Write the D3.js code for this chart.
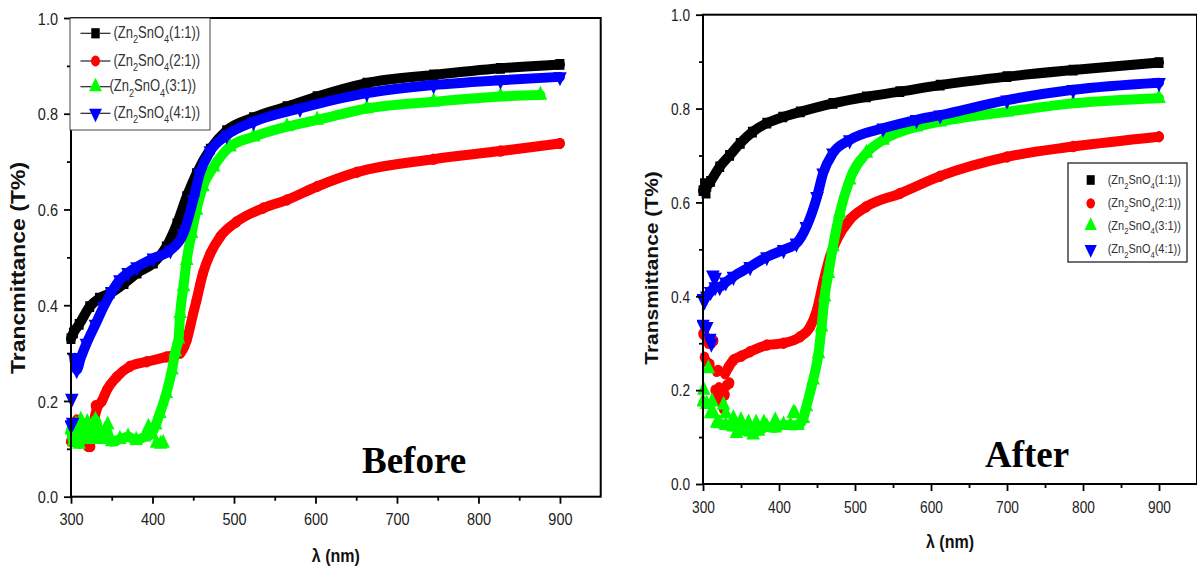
<!DOCTYPE html>
<html><head><meta charset="utf-8">
<script src="https://cdn.jsdelivr.net/npm/d3@7"></script>
<style>body{margin:0;background:#fff}svg{display:block}</style>
</head><body>
<svg id="chart" width="1197" height="568"></svg>
<script>
// ---------- DATA ----------
const xMajorTicks = [300, 400, 500, 600, 700, 800, 900];
const xMinorTicks = [350, 450, 550, 650, 750, 850];
const yMajorTicks = [0, 0.2, 0.4, 0.6, 0.8, 1.0];
const yMinorTicks = [0.1, 0.3, 0.5, 0.7, 0.9];
const ratios = ["1:1", "2:1", "3:1", "4:1"];
const seriesColors = ["#000000", "#ff0000", "#00ff00", "#0000ff"];
const seriesSymbols = ["square", "circle", "triangle", "triangleDown"];
const panelTitles = ["Before", "After"];
const yTitles = ["Trancmittance (T%)", "Transmittance (T%)"];
const xTitle = "λ (nm)";

// Before: [wavelength nm, transmittance]
const beforeBlackBand = [[300,0.33],[303,0.342],[310,0.36],[323,0.397],[335,0.415],[348,0.425],[365,0.445],[381,0.467],[401,0.488],[417,0.522],[430,0.57],[442,0.627],[454,0.675],[471,0.726],[491,0.765],[524,0.792],[565,0.815],[602,0.836],[663,0.864],[745,0.881],[827,0.895],[900,0.903]];
const beforeBlackScatter = [];
const beforeRedBand = [[300,0.115],[305,0.14],[310,0.15],[315,0.13],[321,0.105],[327,0.15],[332,0.185],[338,0.2],[344,0.223],[356,0.25],[372,0.272],[393,0.282],[417,0.292],[434,0.30],[442,0.327],[450,0.383],[454,0.41],[458,0.44],[462,0.467],[471,0.508],[483,0.543],[503,0.574],[536,0.603],[565,0.62],[602,0.648],[651,0.678],[745,0.705],[827,0.722],[900,0.738]];
const beforeRedScatter = [[307,0.16],[324,0.105],[330,0.19]];
const beforeGreenBand = [[300,0.14],[303,0.115],[306,0.15],[310,0.11],[315,0.135],[320,0.155],[325,0.12],[330,0.16],[336,0.12],[342,0.14],[350,0.115],[360,0.12],[370,0.125],[380,0.118],[390,0.125],[398,0.13],[404,0.15],[409,0.174],[417,0.216],[424,0.265],[428,0.303],[432,0.33],[434,0.383],[438,0.439],[442,0.494],[448,0.55],[454,0.599],[462,0.648],[475,0.689],[495,0.731],[524,0.752],[565,0.773],[602,0.787],[663,0.811],[745,0.825],[827,0.836],[876,0.839]];
const beforeGreenScatter = [[405,0.112],[410,0.11],[413,0.112],[395,0.145],[312,0.16],[345,0.15]];
const beforeBlueBand = [[304,0.29],[307,0.265],[312,0.29],[319,0.32],[330,0.36],[340,0.397],[350,0.428],[360,0.453],[370,0.468],[381,0.48],[401,0.498],[422,0.515],[438,0.55],[450,0.62],[458,0.675],[471,0.722],[491,0.755],[524,0.783],[581,0.811],[663,0.843],[745,0.86],[827,0.87],[900,0.877]];
const beforeBlueScatter = [[300,0.15],[301,0.205],[302,0.155]];

// After
const afterBlackBand = [[300,0.625],[305,0.634],[310,0.645],[322,0.676],[335,0.70],[349,0.726],[365,0.75],[384,0.769],[405,0.782],[428,0.793],[471,0.811],[515,0.825],[559,0.836],[612,0.85],[700,0.868],[787,0.882],[900,0.898]];
const afterBlackScatter = [[302,0.64],[304,0.62]];
const afterRedBand = [[329,0.235],[334,0.25],[340,0.264],[350,0.272],[362,0.282],[384,0.296],[406,0.30],[428,0.314],[441,0.335],[450,0.371],[458,0.428],[467,0.484],[476,0.52],[493,0.563],[515,0.591],[559,0.619],[612,0.656],[700,0.697],[787,0.719],[900,0.74]];
const afterRedScatter = [[300,0.32],[303,0.315],[307,0.30],[311,0.30],[314,0.305],[302,0.27],[305,0.26],[309,0.255],[318,0.24],[320,0.242],[316,0.2],[318,0.19],[321,0.205],[323,0.18],[325,0.17],[327,0.16],[329,0.19],[331,0.21],[335,0.215]];
const afterGreenBand = [[322,0.129],[330,0.125],[340,0.122],[350,0.115],[362,0.111],[373,0.113],[384,0.122],[395,0.12],[406,0.126],[415,0.125],[425,0.125],[432,0.14],[436,0.165],[445,0.222],[452,0.278],[456,0.335],[460,0.399],[465,0.449],[471,0.506],[480,0.577],[493,0.648],[515,0.705],[537,0.733],[581,0.761],[612,0.772],[700,0.793],[787,0.811],[900,0.822]];
const afterGreenScatter = [[300,0.175],[301,0.2],[305,0.17],[307,0.246],[310,0.15],[312,0.175],[314,0.15],[318,0.13],[327,0.168],[330,0.15],[340,0.14],[350,0.135],[360,0.13],[370,0.13],[380,0.13],[395,0.135],[419,0.151],[421,0.15],[344,0.108],[366,0.105]];
const afterBlueBand = [[305,0.40],[310,0.41],[316,0.42],[322,0.42],[330,0.43],[340,0.442],[362,0.463],[384,0.484],[406,0.499],[423,0.513],[436,0.548],[450,0.612],[458,0.662],[471,0.705],[493,0.733],[537,0.758],[581,0.776],[612,0.786],[700,0.818],[787,0.84],[900,0.855]];
const afterBlueScatter = [[300,0.395],[302,0.39],[313,0.445],[316,0.44],[300,0.34],[305,0.335],[309,0.31],[311,0.30]];

// ---------- DRAWING ----------
const svg = d3.select("#chart");
const FONT = "'Liberation Sans', Arial, sans-serif";
const SY = 1.2; // vertical stretch of the original picture

const symbolPaths = {
  square: d3.symbol().type(d3.symbolSquare).size(80)(),
  circle: d3.symbol().type(d3.symbolCircle).size(72)(),
  triangle: d3.symbol().type(d3.symbolTriangle).size(80)()
};
function symPath(kind){ return kind === "triangleDown" ? symbolPaths.triangle : symbolPaths[kind]; }
function symTransform(kind, x, y, s){
  return `translate(${x},${y}) scale(${s},${s*SY})` + (kind === "triangleDown" ? " rotate(180)" : "");
}
function addFormula(textSel, ratio, fs){
  const sub = fs*0.7;
  textSel.append("tspan").text("(Zn");
  textSel.append("tspan").attr("dy", fs*0.35).attr("font-size", sub).text("2");
  textSel.append("tspan").attr("dy", -fs*0.35).text("SnO");
  textSel.append("tspan").attr("dy", fs*0.35).attr("font-size", sub).text("4");
  textSel.append("tspan").attr("dy", -fs*0.35).text("(" + ratio + "))");
}

function drawPanel(cfg){
  const g = svg.append("g");
  const x = d3.scaleLinear().domain([300, 950]).range([cfg.left, cfg.right]);
  const y = d3.scaleLinear().domain([0, 1]).range([cfg.bottom, cfg.top]);

  const clipId = "clip" + cfg.id;
  svg.append("clipPath").attr("id", clipId).append("rect")
    .attr("x", cfg.left - 6).attr("y", cfg.top).attr("width", cfg.right - cfg.left + 12).attr("height", cfg.bottom - cfg.top);
  const plot = g.append("g").attr("clip-path", `url(#${clipId})`);

  const line = d3.line().x(d => x(d[0])).y(d => y(d[1])).curve(d3.curveMonotoneX);
  cfg.series.forEach((s, i) => {
    plot.append("path").attr("d", line(s.band)).attr("fill", "none")
      .attr("stroke", seriesColors[i]).attr("stroke-width", 10)
      .attr("stroke-linejoin", "round").attr("stroke-linecap", "round");
    plot.append("g").selectAll("path").data(s.band.concat(s.scatter)).join("path")
      .attr("d", symPath(seriesSymbols[i]))
      .attr("transform", d => symTransform(seriesSymbols[i], x(d[0]), y(d[1]), 1))
      .attr("fill", seriesColors[i]);
  });

  // frame
  g.append("rect").attr("x", cfg.left).attr("y", cfg.top)
    .attr("width", cfg.right - cfg.left).attr("height", cfg.bottom - cfg.top)
    .attr("fill", "none").attr("stroke", "#000").attr("stroke-width", 2);

  // x axis
  const gx = g.append("g").attr("transform", `translate(0,${cfg.bottom})`)
    .call(d3.axisBottom(x).tickValues(xMajorTicks).tickSize(7).tickSizeOuter(0).tickFormat(d3.format("d")));
  gx.select(".domain").remove();
  gx.attr("font-family", FONT).attr("font-size", cfg.tickFont);
  gx.selectAll("line").attr("stroke", "#000").attr("stroke-width", 1.8);
  gx.selectAll("text").attr("y", cfg.xLabelY).attr("dy", 0).attr("fill", "#222")
    .attr("transform", `scale(1,${SY})`);
  const gxm = g.append("g").attr("transform", `translate(0,${cfg.bottom})`)
    .call(d3.axisBottom(x).tickValues(xMinorTicks).tickSize(4).tickSizeOuter(0).tickFormat(""));
  gxm.select(".domain").remove();
  gxm.selectAll("line").attr("stroke", "#000").attr("stroke-width", 1.8);

  // y axis
  const gy = g.append("g").attr("transform", `translate(${cfg.left},0)`)
    .call(d3.axisLeft(y).tickValues(yMajorTicks).tickSize(7).tickSizeOuter(0).tickFormat(d3.format(".1f")));
  gy.select(".domain").remove();
  gy.attr("font-family", FONT).attr("font-size", cfg.tickFont);
  gy.selectAll("line").attr("stroke", "#000").attr("stroke-width", 1.8);
  gy.selectAll("text").attr("x", cfg.yLabelX).attr("dy", "0.35em").attr("fill", "#222")
    .attr("transform", `scale(1,${SY})`);
  const gym = g.append("g").attr("transform", `translate(${cfg.left},0)`)
    .call(d3.axisLeft(y).tickValues(yMinorTicks).tickSize(4).tickSizeOuter(0).tickFormat(""));
  gym.select(".domain").remove();
  gym.selectAll("line").attr("stroke", "#000").attr("stroke-width", 1.8);

  // axis titles
  g.append("g").attr("transform", `translate(${(cfg.left + cfg.right)/2},${cfg.xTitleY}) scale(1,${SY})`)
    .append("text").attr("text-anchor", "middle").attr("font-family", FONT)
    .attr("font-weight", "bold").attr("font-size", cfg.xTitleFont).attr("fill", "#111").text(xTitle);
  g.append("g").attr("transform", `translate(${cfg.yTitleX},${cfg.yTitleY}) rotate(-90) scale(${cfg.yTitleStretch},1)`)
    .append("text").attr("text-anchor", "middle").attr("font-family", FONT)
    .attr("font-weight", "bold").attr("font-size", cfg.yTitleFont).attr("fill", "#111").text(cfg.yTitle);

  // panel label
  g.append("text").attr("x", cfg.labelX).attr("y", cfg.labelY)
    .attr("font-family", "'Liberation Serif', 'Times New Roman', serif").attr("font-weight", "bold")
    .attr("font-size", 37).attr("fill", "#000").text(cfg.label);

  // legend
  const L = cfg.legend;
  g.append("rect").attr("x", L.x).attr("y", L.y).attr("width", L.w).attr("height", L.h)
    .attr("fill", "#fff").attr("stroke", L.stroke).attr("stroke-width", L.strokeWidth);
  ratios.forEach((r, i) => {
    const cy = L.rows[i];
    if (L.withLines) {
      g.append("line").attr("x1", L.symX - 15).attr("x2", L.symX - 4).attr("y1", cy).attr("y2", cy)
        .attr("stroke", "#222").attr("stroke-width", 1.2);
      g.append("line").attr("x1", L.symX + 4).attr("x2", L.symX + 15).attr("y1", cy).attr("y2", cy)
        .attr("stroke", "#222").attr("stroke-width", 1.2);
    }
    g.append("path").attr("d", symPath(seriesSymbols[i]))
      .attr("transform", symTransform(seriesSymbols[i], L.symX, cy, L.symScale))
      .attr("fill", seriesColors[i]);
    const t = g.append("g").attr("transform", `translate(${L.textX[i]},${cy}) scale(1,${SY})`)
      .append("text").attr("dy", "0.3em").attr("font-family", FONT)
      .attr("font-size", L.font).attr("fill", "#333");
    addFormula(t, r, L.font);
  });
}

drawPanel({
  id: "L", left: 71, right: 600.7, top: 18, bottom: 496.7,
  tickFont: 14.5, xLabelY: 23.7, yLabelX: -13,
  xTitleY: 562, xTitleFont: 16,
  yTitle: yTitles[0], yTitleX: 25, yTitleY: 268, yTitleFont: 19.5, yTitleStretch: 1.18,
  label: panelTitles[0], labelX: 362, labelY: 472.5,
  series: [
    {band: beforeBlackBand, scatter: beforeBlackScatter},
    {band: beforeRedBand, scatter: beforeRedScatter},
    {band: beforeGreenBand, scatter: beforeGreenScatter},
    {band: beforeBlueBand, scatter: beforeBlueScatter}
  ],
  legend: {x: 70, y: 18, w: 140, h: 112, stroke: "#444", strokeWidth: 1, rows: [33.3, 61, 86.7, 113.3],
    symX: 95.5, symScale: 0.95, textX: [113.5, 113.5, 109.5, 113.5], font: 13, withLines: true}
});

drawPanel({
  id: "R", left: 703, right: 1197, top: 14.7, bottom: 484,
  tickFont: 13.7, xLabelY: 24.4, yLabelX: -13,
  xTitleY: 548, xTitleFont: 16,
  yTitle: yTitles[1], yTitleX: 658, yTitleY: 268, yTitleFont: 17.5, yTitleStretch: 1.2,
  label: panelTitles[1], labelX: 985, labelY: 467,
  series: [
    {band: afterBlackBand, scatter: afterBlackScatter},
    {band: afterRedBand, scatter: afterRedScatter},
    {band: afterGreenBand, scatter: afterGreenScatter},
    {band: afterBlueBand, scatter: afterBlueScatter}
  ],
  legend: {x: 1068, y: 163, w: 119, h: 99, stroke: "#222", strokeWidth: 1.3, rows: [180, 203.3, 225.7, 249.3],
    symX: 1090.7, symScale: 0.9, textX: [1107.7, 1107.7, 1107.7, 1107.7], font: 11, withLines: false}
});
</script>
</body></html>
